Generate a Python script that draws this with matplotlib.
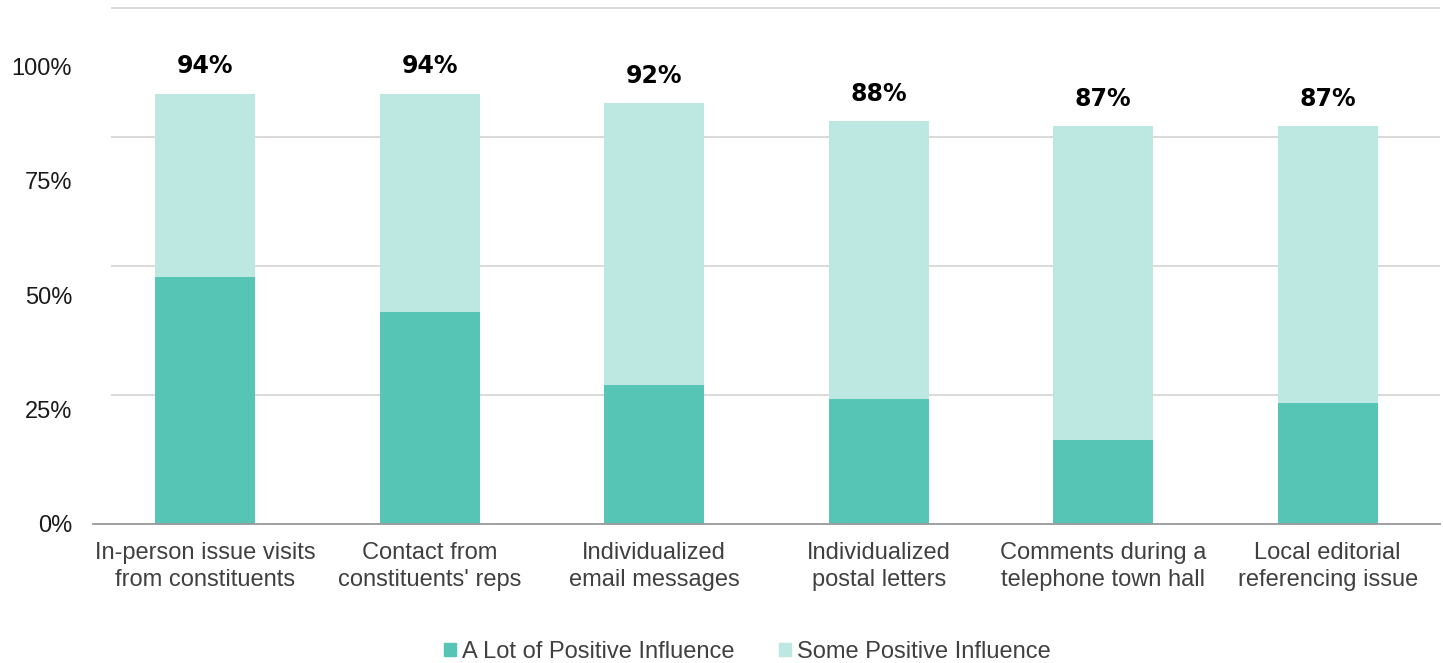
import numpy as np
import matplotlib.pyplot as plt
from matplotlib.patches import Rectangle

# data
categories = ['In-person issue visits\nfrom constituents',
              "Contact from\nconstituents' reps",
              'Individualized\nemail messages',
              'Individualized\npostal letters',
              'Comments during a\ntelephone town hall',
              'Local editorial\nreferencing issue']
a_lot = [54, 46.4, 30.3, 27.3, 18.3, 26.4]
totals = [94, 94, 92, 88, 87, 87]
some = [t - a for t, a in zip(totals, a_lot)]
yticks = [0, 25, 50, 75, 100]

# colors
c_dark = '#56C5B5'
c_light = '#BCE8E1'
c_text = '#404040'

plt.rcParams['font.family'] = ['Liberation Sans', 'DejaVu Sans']

W, H = 1443, 663
fig = plt.figure(figsize=(W / 100, H / 100), dpi=100)
ax = fig.add_axes([93 / W, 1 - 524 / H, 1347 / W, 522 / H])

x = np.arange(len(categories))
ax.set_xlim(-0.5, len(categories) - 0.5)
ax.set_ylim(0, 114)

# gridlines sit on a step that does not follow the tick labels
grid_step = 28.17
for k in range(1, 5):
    ax.axhline(k * grid_step, xmin=0.014, xmax=1, color='#d9d9d9', lw=1.4, zorder=0)

ax.bar(x, a_lot, width=0.445, color=c_dark, zorder=2, label='A Lot of Positive Influence')
ax.bar(x, some, width=0.445, bottom=a_lot, color=c_light, zorder=2, label='Some Positive Influence')

for xi, t in zip(x, totals):
    ax.annotate(f'{t}%', (xi, t), xytext=(0, 19.5), textcoords='offset points',
                ha='center', va='center', fontsize=17, fontweight='bold',
                family='DejaVu Sans', color='black')

for s in ['top', 'right', 'left']:
    ax.spines[s].set_visible(False)
ax.spines['bottom'].set_color('#999999')
ax.spines['bottom'].set_linewidth(1.3)

ax.set_yticks(yticks)
ax.set_yticklabels([f'{v}%' for v in yticks], fontsize=17, color='#1a1a1a')
ax.set_xticks(x)
ax.set_xticklabels(categories, fontsize=17, color=c_text, linespacing=1.32)
ax.tick_params(axis='y', length=0, pad=15)
ax.tick_params(axis='x', length=0, pad=13)

handles = [Rectangle((0, 0), 1, 1, color=c_dark), Rectangle((0, 0), 1, 1, color=c_light)]
leg = fig.legend(handles, ['A Lot of Positive Influence', 'Some Positive Influence'],
                 loc='center', bbox_to_anchor=(747.5 / W, 1 - 652 / H), ncol=2,
                 frameon=False, fontsize=17, handlelength=0.5, handleheight=0.5,
                 handletextpad=0.25, columnspacing=1.9)
for t in leg.get_texts():
    t.set_color(c_text)

fig.savefig('out.png', dpi=100)
